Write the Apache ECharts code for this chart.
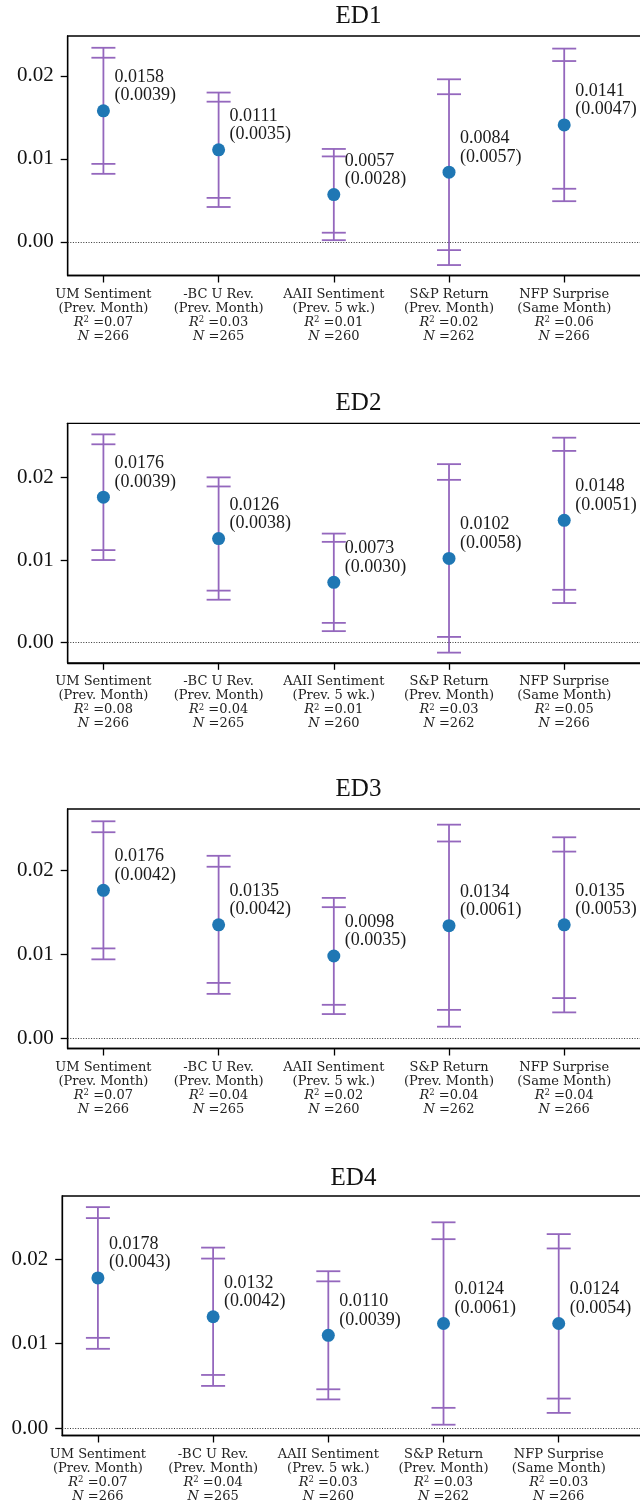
<!DOCTYPE html>
<html><head><meta charset="utf-8">
<script src="https://cdn.jsdelivr.net/npm/echarts@6/dist/echarts.min.js"></script>
<style>html,body{margin:0;padding:0;overflow:hidden;background:#fff}#c{width:660px;height:1504px}</style>
</head><body><div id="c"></div><script>
// ---------- data ----------
const catLine1 = ['UM Sentiment', '-BC U Rev.', 'AAII Sentiment', 'S&P Return', 'NFP Surprise'];
const catLine2 = ['(Prev. Month)', '(Prev. Month)', '(Prev. 5 wk.)', '(Prev. Month)', '(Same Month)'];
const nObs = [266, 265, 260, 262, 266];
const panelNames = ['ED1', 'ED2', 'ED3', 'ED4'];
const yTicks = [0, 0.01, 0.02];

const ed1Est  = [0.0158, 0.0111, 0.0057, 0.0084, 0.0141];
const ed1Se   = [0.0039, 0.0035, 0.0028, 0.0057, 0.0047];
const ed1Lo95 = [0.0082, 0.0042, 0.0002, -0.0028, 0.0049];
const ed1Lo90 = [0.0094, 0.0053, 0.0011, -0.0010, 0.0064];
const ed1Hi90 = [0.0222, 0.0169, 0.0103, 0.0178, 0.0218];
const ed1Hi95 = [0.0234, 0.0180, 0.0112, 0.0196, 0.0233];
const ed1R2   = ['0.07', '0.03', '0.01', '0.02', '0.06'];

const ed2Est  = [0.0176, 0.0126, 0.0073, 0.0102, 0.0148];
const ed2Se   = [0.0039, 0.0038, 0.0030, 0.0058, 0.0051];
const ed2Lo95 = [0.0100, 0.0052, 0.0014, -0.0012, 0.0048];
const ed2Lo90 = [0.0112, 0.0063, 0.0024, 0.0007, 0.0064];
const ed2Hi90 = [0.0240, 0.0189, 0.0122, 0.0197, 0.0232];
const ed2Hi95 = [0.0252, 0.0200, 0.0132, 0.0216, 0.0248];
const ed2R2   = ['0.08', '0.04', '0.01', '0.03', '0.05'];

const ed3Est  = [0.0176, 0.0135, 0.0098, 0.0134, 0.0135];
const ed3Se   = [0.0042, 0.0042, 0.0035, 0.0061, 0.0053];
const ed3Lo95 = [0.0094, 0.0053, 0.0029, 0.0014, 0.0031];
const ed3Lo90 = [0.0107, 0.0066, 0.0040, 0.0034, 0.0048];
const ed3Hi90 = [0.0245, 0.0204, 0.0156, 0.0234, 0.0222];
const ed3Hi95 = [0.0258, 0.0217, 0.0167, 0.0254, 0.0239];
const ed3R2   = ['0.07', '0.04', '0.02', '0.04', '0.04'];

const ed4Est  = [0.0178, 0.0132, 0.0110, 0.0124, 0.0124];
const ed4Se   = [0.0043, 0.0042, 0.0039, 0.0061, 0.0054];
const ed4Lo95 = [0.0094, 0.0050, 0.0034, 0.0004, 0.0018];
const ed4Lo90 = [0.0107, 0.0063, 0.0046, 0.0024, 0.0035];
const ed4Hi90 = [0.0249, 0.0201, 0.0174, 0.0224, 0.0213];
const ed4Hi95 = [0.0262, 0.0214, 0.0186, 0.0244, 0.0230];
const ed4R2   = ['0.07', '0.04', '0.03', '0.03', '0.03'];

// ---------- layout (not data) ----------
const panels = [
  {est: ed1Est, se: ed1Se, lo95: ed1Lo95, lo90: ed1Lo90, hi90: ed1Hi90, hi95: ed1Hi95, r2: ed1R2, top: 36, left: 67.7, yMin: -0.00406, yMax: 0.02482, titleX: 358.5, titleY: 16},
  {est: ed2Est, se: ed2Se, lo95: ed2Lo95, lo90: ed2Lo90, hi90: ed2Hi90, hi95: ed2Hi95, r2: ed2R2, top: 423.3, left: 67.7, yMin: -0.00243, yMax: 0.02654, titleX: 358.5, titleY: 403},
  {est: ed3Est, se: ed3Se, lo95: ed3Lo95, lo90: ed3Lo90, hi90: ed3Hi90, hi95: ed3Hi95, r2: ed3R2, top: 809, left: 67.7, yMin: -0.00119, yMax: 0.02726, titleX: 358.5, titleY: 789},
  {est: ed4Est, se: ed4Se, lo95: ed4Lo95, lo90: ed4Lo90, hi90: ed4Hi90, hi95: ed4Hi95, r2: ed4R2, top: 1196, left: 62.2, yMin: -0.00088, yMax: 0.02752, titleX: 353.5, titleY: 1178}
];
const gridH = 239.5;
const xMin = -0.31, xMax = 4.75, unitPx = 115.2;
const gridW = (xMax - xMin) * unitPx;

const purple = '#9467bd';
const blue = '#1f77b4';
const serif = '"Liberation Serif", "DejaVu Serif", serif';
const smallSerif = '"DejaVu Serif", serif';

function renderBars(params, api) {
  const x = api.value(0);
  const est = api.value(1), se = api.value(2);
  const pE = api.coord([x, est]);
  const yLo95 = api.coord([x, api.value(3)])[1];
  const yLo90 = api.coord([x, api.value(4)])[1];
  const yHi90 = api.coord([x, api.value(5)])[1];
  const yHi95 = api.coord([x, api.value(6)])[1];
  const cx = pE[0], cap = 12;
  const ls = {stroke: purple, lineWidth: 1.8};
  const line = (x1, y1, x2, y2) => ({type: 'line', shape: {x1, y1, x2, y2}, style: ls});
  return {type: 'group', children: [
    line(cx, yLo95, cx, yHi95),
    line(cx - cap, yLo95, cx + cap, yLo95),
    line(cx - cap, yLo90, cx + cap, yLo90),
    line(cx - cap, yHi90, cx + cap, yHi90),
    line(cx - cap, yHi95, cx + cap, yHi95),
    {type: 'text', x: cx + 11, y: pE[1] - 6, z2: 10,
     style: {text: est.toFixed(4) + '\n(' + se.toFixed(4) + ')', fill: '#1a1a1a',
             font: '18px ' + serif, align: 'left', verticalAlign: 'bottom', lineHeight: 18.5}}
  ]};
}

const grid = [], xAxis = [], yAxis = [], series = [], graphic = [];
panels.forEach((p, k) => {
  grid.push({left: p.left, top: p.top, width: gridW, height: gridH, show: true,
             borderColor: '#000', borderWidth: 1.3, backgroundColor: 'transparent'});
  const r2 = p.r2;
  xAxis.push({
    gridIndex: k, type: 'value', min: xMin, max: xMax, position: 'bottom',
    splitLine: {show: false},
    axisLine: {show: true, onZero: false, lineStyle: {color: '#000', width: 1.3}},
    axisTick: {show: true, customValues: [0, 1, 2, 3, 4], length: 7, lineStyle: {color: '#000', width: 1.3}},
    axisLabel: {
      show: true, customValues: [0, 1, 2, 3, 4], margin: 12, color: '#222',
      formatter: function (v) {
        const i = Math.round(v);
        return '{n|' + catLine1[i] + '}\n{n|' + catLine2[i] + '}\n{i|R}{s|2}{n| =' + r2[i] + '}\n{i|N}{n| =' + nObs[i] + '}';
      },
      rich: {
        n: {fontFamily: smallSerif, fontSize: 13, lineHeight: 14, color: '#222'},
        i: {fontFamily: smallSerif, fontSize: 13, lineHeight: 14, fontStyle: 'italic', color: '#222'},
        s: {fontFamily: smallSerif, fontSize: 8.5, lineHeight: 4, verticalAlign: 'top', color: '#222'}
      }
    }
  });
  yAxis.push({
    gridIndex: k, type: 'value', min: p.yMin, max: p.yMax, position: 'left',
    splitLine: {show: false},
    axisLine: {show: true, onZero: false, lineStyle: {color: '#000', width: 1.3}},
    axisTick: {show: true, customValues: yTicks, length: 7, lineStyle: {color: '#000', width: 1.3}},
    axisLabel: {show: true, customValues: yTicks, margin: 14, color: '#111',
                fontFamily: serif, fontSize: 21, formatter: v => v.toFixed(2)}
  });
  const rows = p.est.map((e, i) => [i, e, p.se[i], p.lo95[i], p.lo90[i], p.hi90[i], p.hi95[i]]);
  series.push({
    type: 'custom', xAxisIndex: k, yAxisIndex: k, data: rows, renderItem: renderBars,
    encode: {x: 0, y: 1}, z: 2, silent: true
  });
  series.push({
    type: 'scatter', xAxisIndex: k, yAxisIndex: k, data: p.est.map((e, i) => [i, e]),
    symbol: 'circle', symbolSize: 13, itemStyle: {color: blue, opacity: 1}, z: 3, silent: true,
    markLine: {silent: true, symbol: 'none', label: {show: false},
               lineStyle: {type: [1, 1.6], color: '#333', width: 1},
               data: [{yAxis: 0}]}
  });
  graphic.push({type: 'text', x: p.titleX, y: p.titleY, silent: true,
                style: {text: panelNames[k], fill: '#111', font: '25px ' + serif,
                        align: 'center', verticalAlign: 'middle'}});
});

const chart = echarts.init(document.getElementById('c'));
chart.setOption({animation: false, backgroundColor: '#fff', grid, xAxis, yAxis, series, graphic});
</script></body></html>
